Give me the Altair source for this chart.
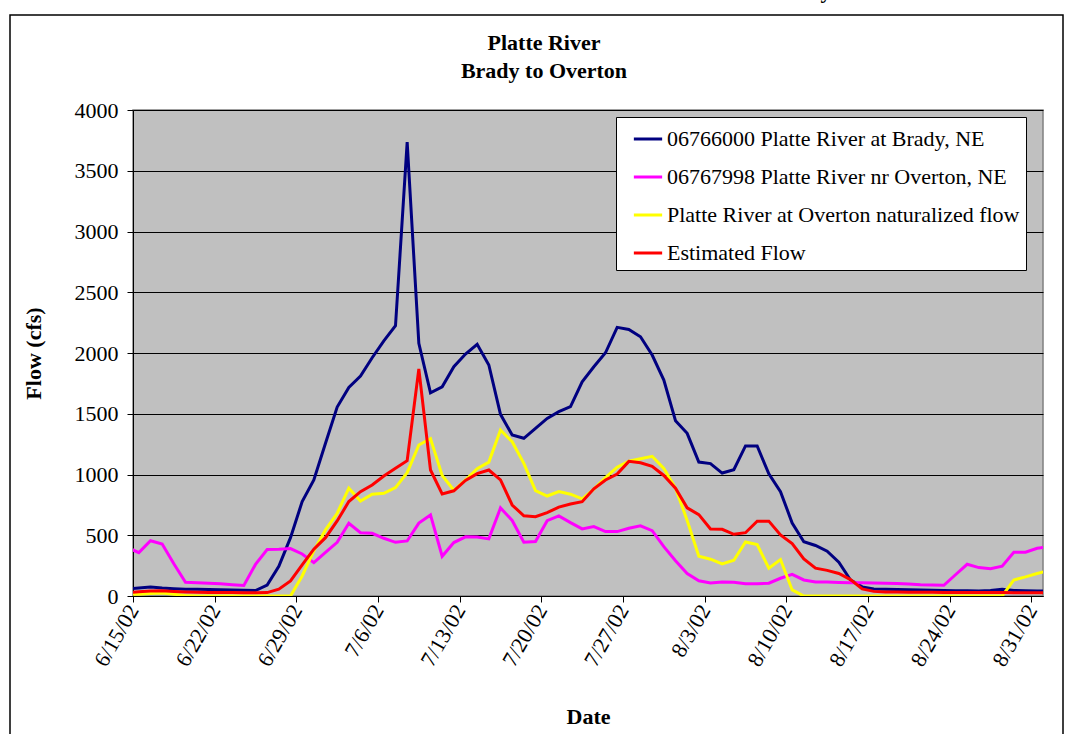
import altair as alt
import pandas as pd

# Daily flows, 6/14/2002 through 9/1/2002 (cfs)
dates = [d.strftime("%Y-%m-%dT12:00:00Z") for d in pd.date_range("2002-06-14", "2002-09-01", freq="D")]

brady = [57, 65, 75, 65, 60, 55, 55, 53, 52, 50, 48, 45, 90, 245, 480,
         777, 955, 1257, 1555, 1717, 1810, 1961, 2100, 2224, 3735, 2079, 1673, 1722, 1887, 1991,
         2071, 1901, 1495, 1325, 1298, 1380, 1462, 1517, 1558, 1763, 1887, 2002, 2211, 2194, 2134,
         1983, 1777, 1443, 1339, 1102, 1090, 1012, 1040, 1235, 1235, 1005, 859, 601, 447, 416,
         369, 278, 132, 75, 58, 55, 53, 52, 50, 48, 46, 44, 43, 42, 45, 55, 45, 43, 42, 42]

overton = [400, 357, 455, 428, 265, 113, 110, 105, 100, 93, 86, 260, 382, 384, 390,
           346, 275, 360, 442, 599, 521, 516, 475, 442, 453, 600, 667, 327, 440, 487,
           485, 470, 725, 622, 442, 448, 620, 659, 604, 552, 571, 530, 530, 557, 577,
           538, 406, 291, 185, 125, 108, 116, 114, 100, 100, 105, 146, 178, 132, 115,
           116, 112, 110, 110, 108, 105, 103, 98, 92, 90, 88, 175, 261, 234, 225, 245, 360, 360, 393, 405]

naturalized = [15, 15, 20, 25, 15, 5, 0, 0, 0, 0, 0, 0, 0, 0, 0,
               165, 373, 544, 681, 887, 782, 837, 845, 892, 1015, 1243, 1295, 992, 870, 955,
               1047, 1102, 1366, 1270, 1092, 867, 823, 859, 838, 800, 880, 975, 1060, 1110, 1130,
               1150, 1050, 887, 622, 328, 303, 264, 294, 445, 423, 229, 300, 50, 0, 0,
               0, 0, 0, 0, 0, 0, 0, 0, 0, 0, 0, 0, 0, 0, 0, 0, 132, 157, 185, 210]

estimated = [28, 35, 42, 44, 38, 33, 30, 29, 28, 28, 27, 26, 28, 56, 124,
             256, 385, 480, 618, 777, 859, 914, 988, 1051, 1114, 1869, 1037, 840, 866, 951,
             1007, 1037, 955, 749, 660, 653, 686, 732, 757, 776, 882, 955, 1004, 1108, 1097,
             1067, 992, 887, 726, 670, 552, 549, 508, 521, 616, 616, 502, 431, 306, 229,
             211, 185, 135, 58, 38, 33, 32, 31, 30, 30, 29, 29, 28, 28, 28, 28, 27, 27, 27, 27]

series_names = [
    "06766000 Platte River at Brady, NE",
    "06767998 Platte River nr Overton, NE",
    "Platte River at Overton naturalized flow",
    "Estimated Flow",
]
series_colors = ["#000080", "#FF00FF", "#FFFF00", "#FF0000"]
series_values = [brady, overton, naturalized, estimated]

title_lines = ["Platte River", "Brady to Overton"]

tick_dates = [(2002, 6, 15), (2002, 6, 22), (2002, 6, 29), (2002, 7, 6), (2002, 7, 13),
              (2002, 7, 20), (2002, 7, 27), (2002, 8, 3), (2002, 8, 10), (2002, 8, 17),
              (2002, 8, 24), (2002, 8, 31)]
y_ticks = [0, 500, 1000, 1500, 2000, 2500, 3000, 3500, 4000]

rows = []
for name, vals in zip(series_names, series_values):
    for i, (d, v) in enumerate(zip(dates, vals)):
        rows.append({"series": name, "date": d, "flow": v, "order": i})
df = pd.DataFrame(rows)

FONT = "Liberation Serif"
FS = 22
W, H = 910, 486

x_enc = alt.X(
    "date:T",
    scale=alt.Scale(
        type="utc",
        domain=[alt.DateTime(year=2002, month=6, date=15, utc=True),
                alt.DateTime(year=2002, month=9, date=1, utc=True)],
    ),
    axis=alt.Axis(
        values=[alt.DateTime(year=y, month=m, date=d, utc=True) for (y, m, d) in tick_dates],
        labelExpr="utcFormat(datum.value, '%-m/%-d/%y')",
        labelAngle=-60, labelAlign="right", labelBaseline="middle",
        labelFont=FONT, labelFontSize=FS, labelColor="black", labelPadding=4,
        tickSize=6, tickColor="black", domainColor="black", grid=False,
        title="Date", titleFont=FONT, titleFontSize=FS, titleFontWeight="bold",
        titleColor="black", titleX=W / 2, titleY=120, titleBaseline="middle",
    ),
)

y_enc = alt.Y(
    "flow:Q",
    scale=alt.Scale(domain=[0, 4000], nice=False),
    axis=alt.Axis(
        values=y_ticks, format="d", labelFont=FONT, labelFontSize=FS, labelColor="black",
        labelPadding=9, tickSize=6, tickColor="black", domainColor="black",
        grid=True, gridColor="black", gridWidth=1,
        title="Flow (cfs)", titleFont=FONT, titleFontSize=FS, titleFontWeight="bold",
        titleColor="black", titleX=-100, titleY=H / 2, titleAngle=-90,
        titleBaseline="middle", titleAlign="center",
    ),
)

lines = alt.Chart(df).mark_line(strokeWidth=3, clip=True).encode(
    x=x_enc,
    y=y_enc,
    order="order:Q",
    color=alt.Color(
        "series:N",
        scale=alt.Scale(domain=series_names, range=series_colors),
        legend=alt.Legend(
            title=None, orient="none", legendX=483, legendY=7,
            fillColor="white", strokeColor="black", padding=6,
            symbolType="stroke", symbolSize=800, symbolStrokeWidth=3, symbolOffset=10,
            labelFont=FONT, labelFontSize=FS, labelColor="black", labelLimit=0,
            rowPadding=11, labelOffset=3,
        ),
    ),
)

# Outer chart frame
frame = alt.Chart(pd.DataFrame({"k": [0]})).mark_rect(
    fill=None, stroke="black", strokeWidth=1.5
).encode(
    x=alt.value(-123), x2=alt.value(930), y=alt.value(-95), y2=alt.value(650)
)

# Two-line chart title
title1 = alt.Chart(pd.DataFrame({"t": [title_lines[0]]})).mark_text(
    font=FONT, fontSize=FS, fontWeight="bold", color="black",
    align="center", baseline="middle",
).encode(text="t:N", x=alt.value(411), y=alt.value(-67))

title2 = alt.Chart(pd.DataFrame({"t": [title_lines[1]]})).mark_text(
    font=FONT, fontSize=FS, fontWeight="bold", color="black",
    align="center", baseline="middle",
).encode(text="t:N", x=alt.value(411), y=alt.value(-39))

# Descender of the heading line printed above the chart frame
above = alt.Chart(pd.DataFrame({"t": ["y"]})).mark_text(
    font=FONT, fontSize=FS, fontWeight="bold", color="black",
    align="center", baseline="alphabetic",
).encode(text="t:N", x=alt.value(693), y=alt.value(-112))

chart = (
    alt.layer(frame, title1, title2, above, lines)
    .properties(
        width=W, height=H,
        padding={"left": 133, "top": 110, "right": 31, "bottom": 138},
        autosize=alt.AutoSizeParams(type="none"),
        background="white",
    )
    .configure_view(fill="#C0C0C0", stroke="#808080", strokeWidth=1.5)
)

chart.save("out.html", embed_options={"renderer": "svg", "actions": False})
